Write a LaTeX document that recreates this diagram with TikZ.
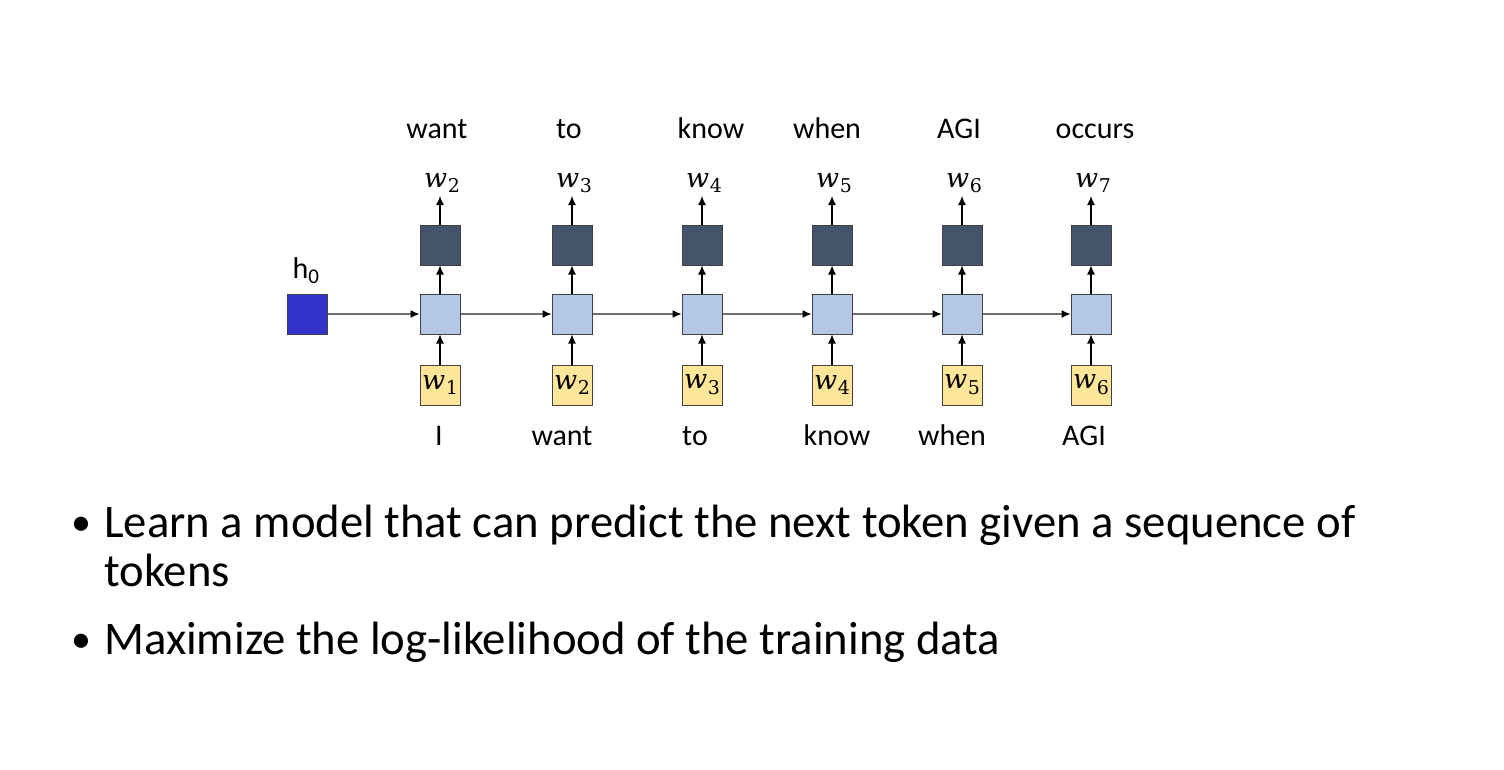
\documentclass[tikz,border=0pt]{standalone}
\usepackage{fontspec}
\setmainfont{Carlito}
\newfontfamily\wfont{DejaVu Serif}
\usetikzlibrary{arrows.meta}
\definecolor{hzeroblue}{RGB}{51,51,204}
\definecolor{hidblue}{RGB}{180,199,231}
\definecolor{outslate}{RGB}{68,84,106}
\definecolor{inyellow}{RGB}{255,230,153}
\definecolor{edgegray}{RGB}{64,64,64}
\definecolor{recgray}{RGB}{110,110,110}
\newcommand{\wtok}[1]{{\itshape w}\kern0.5pt\raisebox{-0.22em}{\fontsize{19}{20}\selectfont #1}}

\begin{document}
\begin{tikzpicture}[x=1pt, y=-1pt,
        cell/.style={draw=edgegray, line width=1pt, minimum size=40pt, inner sep=0pt},
        hid/.style={cell, fill=hidblue},
        outp/.style={cell, fill=outslate},
        inp/.style={cell, fill=inyellow, font=\wfont\fontsize{27}{30}\selectfont},
        wlab/.style={font=\wfont\fontsize{27}{30}\selectfont, anchor=base},
        word/.style={font=\fontsize{30}{34}\selectfont, anchor=base},
        bul/.style={font=\fontsize{46.7}{54}\selectfont, anchor=base west, inner sep=0pt},
        up/.style={-{Latex[length=9pt,width=8pt]}, line width=1.2pt},
        rec/.style={-{Latex[length=9pt,width=8pt,color=black]}, draw=recgray, line width=1.2pt}]
    \useasboundingbox (0,0) rectangle (1504,769);
    %\draw[help lines] (0,0) grid[step=100] (1504,769);
    \node[cell, fill=hzeroblue] (hz) at (307,314) {};
    \node[word] (hzlab) at (306,278) {h\textsubscript{0}};
    \foreach \x [count=\i] in {440,572,702,832,962,1091} {
        \pgfmathtruncatemacro{\j}{\i+1}
        \node[hid] (h\i) at (\x,314) {};
        \node[outp] (o\i) at (\x,245) {};
        \node[inp] (in\i) at (\x,385) {\wtok{\i}};
        \coordinate (tip\i) at (\x,196);
        \node[wlab] (t\i) at (\x+2,187) {\wtok{\j}};
        \draw[up] (in\i) -- (h\i);
        \draw[up] (h\i) -- (o\i);
        \draw[up] (o\i) -- (tip\i);
    }
    \draw[rec] (hz) -- (h1);
    \foreach \a/\b in {1/2,2/3,3/4,4/5,5/6}
        \draw[rec] (h\a) -- (h\b);
    % words above and below
    \foreach \x/\w [count=\i] in {437/want,569/to,711/know,827/when,959/AGI,1095/occurs}
        \node[word] (top\i) at (\x,138) {\w};
    \foreach \x/\w [count=\i] in {439/I,562/want,695/to,837/know,952/when,1084/AGI}
        \node[word] (bot\i) at (\x,445) {\w};
    % bullets
    \node[bul, anchor=base, font=\fontsize{40}{48}\selectfont] (dot1) at (81,535) {•};
    \node[bul] (line1) at (104,537) {Learn a model that can predict the next token given a sequence of};
    \node[bul] (line1b) at (104,586) {tokens};
    \node[bul, anchor=base, font=\fontsize{40}{48}\selectfont] (dot2) at (81,652) {•};
    \node[bul] (line2) at (104,654) {Maximize the log-likelihood of the training data};
\end{tikzpicture}
\end{document}
